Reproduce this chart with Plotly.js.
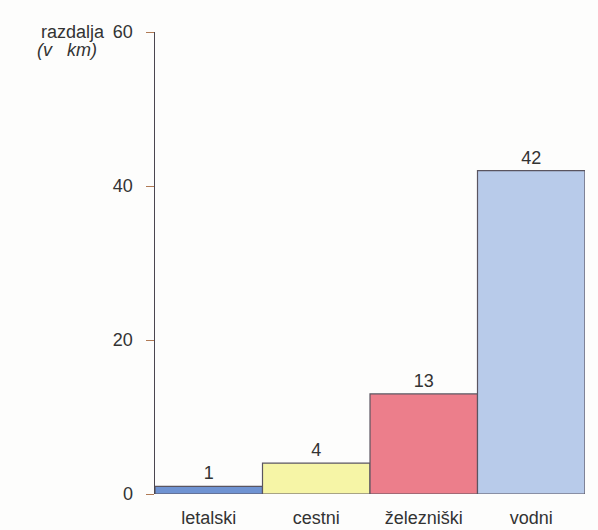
<!DOCTYPE html>
<html>
<head>
<meta charset="utf-8">
<script src="https://cdn.plot.ly/plotly-3.0.1.min.js"></script>
<style>
  html, body { margin: 0; padding: 0; background: #fdfdfc; }
  #chart { width: 598px; height: 530px; }
</style>
</head>
<body>
<div id="chart"></div>
<script>
// Transport types and distances (km)
const categories = ['letalski', 'cestni', 'železniški', 'vodni'];
const distances = [1, 4, 13, 42];
const barColors = ['#6f93d2', '#f6f5a6', '#ec7e8b', '#b8cbea'];
const yTicks = [0, 20, 40, 60];

const trace = {
  type: 'bar',
  x: categories,
  y: distances,
  text: distances.map(String),
  textposition: 'outside',
  cliponaxis: false,
  textfont: { family: 'Liberation Sans, Arial, sans-serif', size: 18, color: '#333' },
  marker: { color: barColors, line: { color: '#5a5560', width: 1.2 } },
  hoverinfo: 'none'
};

const layout = {
  width: 598,
  height: 530,
  margin: { l: 155, r: 13, t: 32, b: 36 },
  paper_bgcolor: '#fdfdfc',
  plot_bgcolor: '#fdfdfc',
  bargap: 0,
  showlegend: false,
  font: { family: 'Liberation Sans, Arial, sans-serif', color: '#333' },
  xaxis: {
    type: 'category',
    range: [-0.5, 3.5],
    showline: false,
    showgrid: false,
    zeroline: false,
    ticks: '',
    tickfont: { size: 18, color: '#333' },
    ticklabelstandoff: 11
  },
  yaxis: {
    range: [0, 60],
    tickvals: yTicks,
    ticktext: yTicks.map(String),
    showgrid: false,
    zeroline: false,
    showline: true,
    linecolor: '#4a4650',
    linewidth: 1.5,
    ticks: 'outside',
    ticklen: 8,
    tickwidth: 1,
    tickcolor: '#b07a55',
    tickfont: { size: 18, color: '#333' },
    ticklabelstandoff: 9
  },
  annotations: [
    {
      text: 'razdalja', xref: 'paper', yref: 'paper', x: -0.111, y: 1.0,
      xanchor: 'right', yanchor: 'middle', showarrow: false,
      font: { size: 18, color: '#333' }
    },
    {
      text: '<i>(v   km)</i>', xref: 'paper', yref: 'paper', x: -0.13, y: 0.961,
      xanchor: 'right', yanchor: 'middle', showarrow: false,
      font: { size: 18, color: '#333' }
    }
  ]
};

Plotly.newPlot('chart', [trace], layout, { displayModeBar: false, staticPlot: true });
</script>
</body>
</html>
